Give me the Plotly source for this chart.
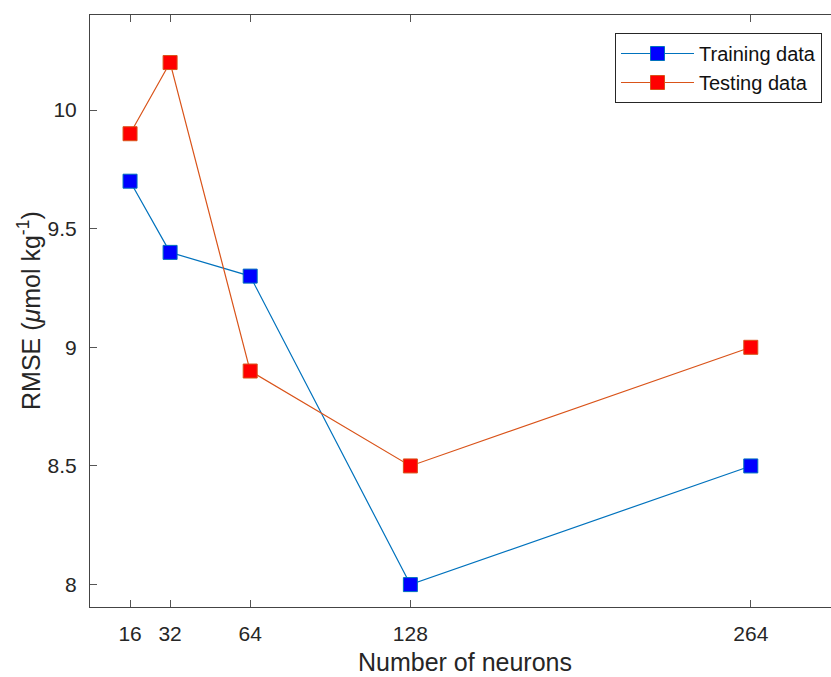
import plotly.graph_objects as go

neurons = [16, 32, 64, 128, 264]
training_rmse = [9.7, 9.4, 9.3, 8.0, 8.5]
testing_rmse = [9.9, 10.2, 8.9, 8.5, 9.0]
x_ticks = [16, 32, 64, 128, 264]
y_ticks = [8, 8.5, 9, 9.5, 10]
y_tick_labels = ["8", "8.5", "9", "9.5", "10"]

W, H = 831, 677
ML, MR, MT, MB = 90, 0, 15, 70
pw = W - ML - MR
ph = H - MT - MB
ypx = 237.3
ytop = 10 + (110 - MT) / ypx
ybot = ytop - ph / ypx

fig = go.Figure()
fig.add_trace(go.Scatter(
    x=neurons, y=training_rmse, mode="lines+markers", name="Training data",
    line=dict(color="#0072BD", width=1.2),
    marker=dict(symbol="square", size=14, color="#0000FF",
                line=dict(color="#0072BD", width=1)),
))
fig.add_trace(go.Scatter(
    x=neurons, y=testing_rmse, mode="lines+markers", name="Testing data",
    line=dict(color="#D95319", width=1.2),
    marker=dict(symbol="square", size=14, color="#FF0000",
                line=dict(color="#D95319", width=1)),
))

font = "Liberation Sans, Arial, sans-serif"
fig.update_layout(
    width=W, height=H,
    margin=dict(l=ML, r=MR, t=MT, b=MB, pad=0, autoexpand=False),
    paper_bgcolor="white", plot_bgcolor="white",
    font=dict(family=font, color="#262626"),
    showlegend=True,
    legend=dict(
        x=(822 - ML) / pw, y=1 - (33 - MT) / ph, xanchor="right", yanchor="top",
        bgcolor="white", bordercolor="#262626", borderwidth=1,
        font=dict(size=20, family=font, color="#111111"),
        tracegroupgap=0, itemwidth=73,
    ),
    xaxis=dict(
        range=[0, pw / 2.503], tickvals=x_ticks, ticktext=[str(v) for v in x_ticks],
        ticks="inside", ticklen=7, tickcolor="#555555", tickwidth=1,
        showline=True, linecolor="#444444", linewidth=1, mirror="ticks",
        showgrid=False, zeroline=False, automargin=False,
        tickfont=dict(size=21, family=font, color="#262626"),
        ticklabelstandoff=8,
    ),
    yaxis=dict(
        range=[ybot, ytop],
        tickvals=y_ticks, ticktext=y_tick_labels,
        ticks="inside", ticklen=7, tickcolor="#555555", tickwidth=1,
        showline=True, linecolor="#444444", linewidth=1, mirror=False,
        showgrid=False, zeroline=False, automargin=False,
        tickfont=dict(size=21, family=font, color="#262626"),
        ticklabelstandoff=8,
    ),
    annotations=[
        dict(text="Number of neurons", xref="paper", yref="paper",
             x=(465 - ML) / pw, y=-(662 - MT - ph) / ph,
             xanchor="center", yanchor="middle", showarrow=False,
             font=dict(size=25, family=font, color="#262626")),
        dict(text="RMSE (<i>μ</i>mol kg<sup>-1</sup>)", xref="paper", yref="paper",
             x=(29 - ML) / pw, y=0.5, textangle=-90,
             xanchor="center", yanchor="middle", showarrow=False,
             font=dict(size=25, family=font, color="#262626")),
    ],
)

fig.write_html(
    "out.html",
    config={"displayModeBar": False},
    post_script="document.body.style.margin='0';document.body.style.padding='0';",
)
